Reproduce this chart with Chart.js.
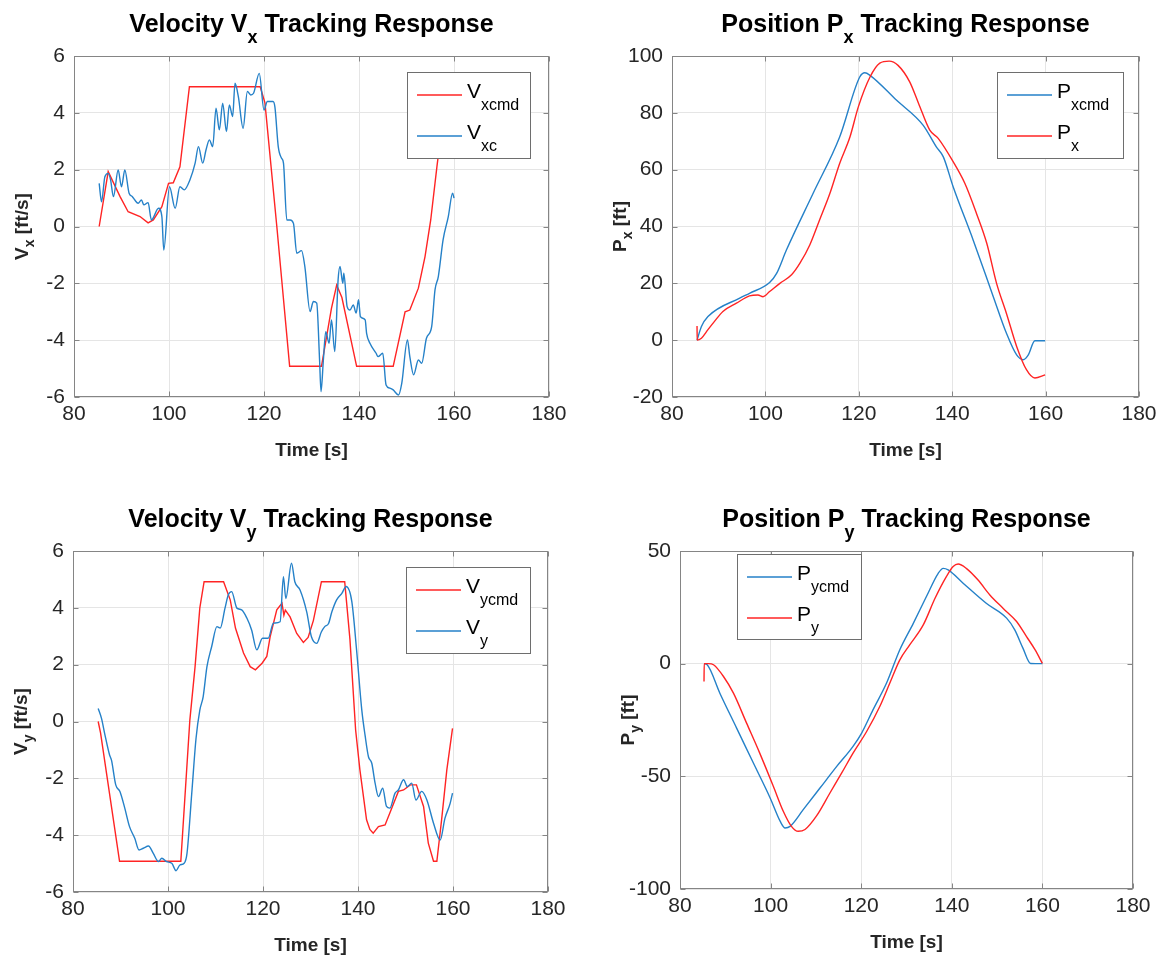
<!DOCTYPE html>
<html>
<head>
<meta charset="utf-8">
<script src="https://cdn.jsdelivr.net/npm/chart.js@4"></script>
<style>
  html, body { margin: 0; padding: 0; background: #fff; }
  #wrap { position: relative; width: 1171px; height: 957px; }
  canvas { position: absolute; }
</style>
</head>
<body>
<div id="wrap">
  <canvas id="c1" width="585" height="478" style="left:0;top:0"></canvas>
  <canvas id="c2" width="586" height="478" style="left:585px;top:0"></canvas>
  <canvas id="c3" width="585" height="479" style="left:0;top:478px"></canvas>
  <canvas id="c4" width="586" height="479" style="left:585px;top:478px"></canvas>
</div>
<script>
// tick labels
const timeTicks = [80, 100, 120, 140, 160, 180];
const velTicks = [-6, -4, -2, 0, 2, 4, 6];
const pxTicks = [-20, 0, 20, 40, 60, 80, 100];
const pyTicks = [-100, -50, 0, 50];

// Vx commanded / measured
const vxcmdT = [85.3, 87.2, 89.7, 91.4, 93.9, 95.6, 96.7, 98.5, 99.9, 100.9, 102.3, 104.3, 119.2, 120.2, 122.7, 125.4, 132.1, 134.2, 135.3, 136.4, 139.5, 147.2, 149.7, 150.7, 152.5, 153.9, 155.1, 156.4, 158.5, 160];
const vxcmdV = [0, 1.93, 1.05, 0.52, 0.35, 0.13, 0.23, 0.7, 1.52, 1.54, 2.1, 4.92, 4.92, 4.35, 0, -4.92, -4.92, -2.88, -2.06, -2.5, -4.92, -4.92, -3.0, -2.94, -2.17, -1.06, 0.23, 2.1, 4.9, 4.9];
const vxcT = [85.3, 85.8, 86.5, 87.2, 87.7, 88.3, 89.3, 90.0, 90.7, 91.6, 92.3, 92.8, 93.5, 94.2, 94.7, 95.6, 96.3, 97.8, 98.5, 98.9, 100.1, 101.3, 102.3, 103.2, 104.4, 105.5, 106.2, 107.1, 107.8, 108.5, 109.2, 109.9, 110.6, 111.3, 112.1, 112.7, 113.4, 113.9, 114.6, 115.6, 116.5, 117.2, 117.8, 119.0, 120.0, 120.7, 121.9, 122.3, 123.0, 123.7, 124.1, 124.8, 125.5, 126.2, 126.9, 127.9, 128.6, 129.7, 130.4, 131.1, 131.7, 132.0, 132.5, 133.0, 133.7, 134.2, 134.9, 135.6, 136.0, 136.6, 136.8, 137.5, 138.1, 138.8, 139.4, 139.9, 140.3, 141.3, 141.6, 142.3, 143.6, 144.0, 145.0, 145.7, 146.5, 147.2, 148.3, 149.0, 150.2, 150.7, 151.5, 152.5, 153.2, 154.2, 155.3, 156.0, 156.7, 157.7, 158.8, 159.7, 160.0];
const vxcV = [1.52, 0.87, 1.75, 1.87, 1.64, 1.05, 1.99, 1.40, 1.99, 1.17, 1.05, 0.93, 0.82, 0.93, 0.76, 0.84, 0.23, 0.64, 0.35, -0.83, 1.40, 0.64, 1.40, 1.29, 1.64, 2.23, 2.81, 2.23, 2.70, 3.05, 2.81, 4.16, 3.40, 4.34, 3.34, 4.28, 3.87, 5.04, 4.57, 3.46, 4.75, 4.63, 4.69, 5.39, 4.10, 4.40, 4.40, 4.2, 2.81, 2.40, 2.23, 0.23, 0.23, 0.11, -0.94, -0.85, -1.41, -2.99, -2.64, -2.70, -4.70, -5.81, -4.70, -3.70, -4.11, -3.29, -4.40, -1.88, -1.41, -2.0, -1.64, -2.82, -2.94, -2.76, -3.05, -2.58, -3.17, -3.29, -3.76, -4.11, -4.46, -4.58, -4.46, -5.58, -5.69, -5.75, -5.93, -5.52, -3.99, -4.58, -5.22, -4.70, -4.81, -3.93, -3.52, -2.23, -1.76, -0.47, 0.35, 1.17, 1.0];

// Px commanded / measured
const pxcmdT = [85.36, 86.3, 87.7, 94.5, 96.6, 100.9, 102.4, 104.5, 110.2, 115.9, 120.2, 121.3, 122.4, 128.1, 133.8, 136.6, 138.1, 140.2, 144.5, 148.8, 151.6, 153.8, 155.2, 156.3, 157.7, 159.9];
const pxcmdV = [0, 4.8, 8.3, 14.8, 16.5, 20.3, 23.5, 31.7, 51.6, 71.5, 92.6, 94.1, 93.2, 84.4, 75.6, 68.0, 64.5, 54.0, 35.2, 15.3, 2.5, -5.2, -6.9, -5.2, -0.2, -0.2];
const pxT = [85.36, 85.4, 86.3, 87.7, 89.1, 90.9, 93.8, 96.6, 98.4, 99.5, 100.9, 103.1, 105.6, 107.4, 109.5, 111.6, 113.8, 115.9, 118.1, 119.9, 122.4, 124.5, 126.5, 128.4, 130.9, 132.8, 135.2, 137.0, 140.2, 142.7, 145.2, 147.4, 149.5, 151.6, 153.8, 155.9, 157.7, 159.9];
const pxV = [5.0, 0, 0.7, 3.7, 6.6, 10.1, 13.0, 15.6, 15.9, 15.3, 17.1, 20.0, 23.0, 27.1, 33.5, 42.3, 51.6, 62.2, 71.5, 82.1, 92.6, 97.5, 98.2, 96.7, 90.9, 83.3, 73.9, 71.0, 62.8, 55.2, 44.6, 34.1, 20.0, 9.5, -2.2, -10.4, -13.3, -12.2];

// Vy commanded / measured
const vycmdT = [85.3, 85.8, 89.8, 102.7, 104.6, 105.7, 106.7, 107.6, 111.7, 113.1, 114.2, 115.9, 117.3, 118.4, 119.8, 120.8, 121.5, 122.9, 124.0, 124.4, 124.7, 125.7, 127.1, 128.5, 129.5, 130.6, 132.3, 137.2, 138.3, 139.5, 140.4, 141.8, 142.5, 143.2, 144.3, 145.7, 147.1, 148.5, 149.6, 151.0, 152.3, 153.8, 154.8, 155.9, 156.6, 157.6, 158.7, 159.9];
const vycmdV = [0, -0.4, -4.92, -4.92, 0.05, 1.93, 4.0, 4.92, 4.92, 4.28, 3.29, 2.41, 1.93, 1.82, 2.05, 2.29, 2.98, 3.93, 4.16, 3.74, 3.92, 3.68, 3.10, 2.78, 2.96, 3.55, 4.92, 4.92, 2.90, -0.3, -1.70, -3.46, -3.8, -3.93, -3.70, -3.64, -3.05, -2.46, -2.41, -2.23, -2.23, -2.99, -4.28, -4.92, -4.92, -3.46, -1.70, -0.24];
const vyT = [85.3, 86.0, 86.7, 87.7, 88.1, 89.0, 89.9, 90.9, 91.9, 93.0, 93.9, 94.8, 95.9, 96.9, 98.0, 98.7, 99.7, 100.8, 101.7, 102.5, 103.4, 104.0, 105.0, 105.9, 106.7, 107.4, 108.2, 109.2, 110.3, 111.0, 112.0, 112.7, 113.4, 114.5, 115.5, 116.6, 117.6, 118.7, 119.9, 121.1, 122.2, 123.6, 124.3, 124.8, 126.0, 126.7, 127.8, 129.2, 130.2, 131.3, 132.3, 133.0, 133.8, 134.5, 135.5, 136.6, 137.5, 138.7, 139.7, 140.8, 141.5, 142.2, 142.9, 143.6, 144.3, 145.2, 146.0, 146.7, 147.8, 148.5, 149.6, 150.4, 151.3, 152.2, 153.4, 154.5, 155.9, 157.3, 158.3, 159.4, 159.9];
const vyV = [0.46, 0.11, -0.45, -1.18, -1.36, -2.23, -2.47, -3.05, -3.70, -4.11, -4.52, -4.46, -4.38, -4.64, -4.93, -4.81, -4.93, -4.99, -5.25, -5.05, -4.99, -4.64, -2.53, -0.6, 0.40, 0.87, 1.93, 2.64, 3.34, 3.29, 3.99, 4.46, 4.57, 3.99, 3.93, 3.64, 3.22, 2.52, 2.93, 2.93, 3.46, 3.51, 5.1, 4.33, 5.57, 4.92, 4.63, 3.86, 2.98, 2.75, 3.16, 3.34, 3.45, 3.86, 4.28, 4.51, 4.75, 4.22, 2.52, 0.40, -0.5, -1.24, -1.47, -2.17, -2.64, -2.35, -2.99, -3.05, -2.52, -2.41, -2.05, -2.29, -2.17, -2.76, -2.46, -2.76, -3.58, -4.17, -3.41, -2.88, -2.52];

// Py commanded / measured
const pycmdT = [85.3, 86.0, 88.8, 92.5, 96.2, 99.9, 102.1, 103.2, 104.3, 107.2, 110.9, 114.6, 118.2, 120.1, 122.6, 125.6, 128.5, 131.5, 134.4, 137.0, 138.1, 139.2, 142.5, 147.6, 152.1, 153.9, 155.7, 157.4, 160.0];
const pycmdV = [0, -0.5, -13.1, -28.6, -44.1, -59.6, -69.9, -72.9, -72.2, -64.8, -55.2, -45.6, -36.7, -30.8, -20.5, -8.6, 6.1, 17.9, 29.8, 40.1, 42.3, 41.6, 35.7, 26.8, 20.2, 15.0, 6.9, 0.1, 0];
const pyT = [85.3, 85.35, 86.3, 87.4, 89.6, 91.8, 94.7, 97.6, 100.6, 102.8, 104.6, 106.1, 107.6, 110.1, 113.1, 115.7, 118.2, 121.2, 124.1, 126.3, 128.5, 130.7, 133.7, 136.3, 138.8, 140.3, 141.4, 143.2, 145.8, 148.4, 151.3, 154.3, 156.5, 158.4, 160.0];
const pyV = [-7.9, 0, 0, -0.5, -5.7, -13.1, -26.4, -39.7, -54.4, -65.5, -72.2, -74.4, -73.6, -67.7, -57.4, -48.5, -39.7, -30.1, -19.0, -8.7, 1.6, 8.3, 17.2, 29.0, 38.6, 43.1, 44.2, 42.3, 37.1, 30.5, 24.6, 18.7, 12.0, 6.1, 0.1];

const RED = '#ff2424';
const BLUE = '#2581c8';
const INK = '#262626';
const BOX = '#858585';
const FONT = '"Liberation Sans", Arial, Helvetica, sans-serif';

Chart.defaults.font.family = FONT;
Chart.defaults.color = INK;

const pts = (t, v) => t.map((x, i) => ({ x: x, y: v[i] }));

// draws text with subscripts: parts = [[text, isSub], ...]
function drawRich(ctx, parts, x, y, align, fonts, off) {
  const w = parts.map(p => { ctx.font = fonts[p[1] ? 1 : 0]; return ctx.measureText(p[0]).width; });
  let cx = align === 'center' ? x - w.reduce((a, b) => a + b, 0) / 2 : x;
  ctx.textAlign = 'left';
  ctx.textBaseline = 'alphabetic';
  parts.forEach((p, i) => {
    ctx.font = fonts[p[1] ? 1 : 0];
    ctx.fillText(p[0], cx, y + (p[1] ? off : 0));
    cx += w[i];
  });
}

const matlabAxes = {
  id: 'matlabAxes',
  afterDatasetsDraw(chart, args, o) {
    const ctx = chart.ctx, a = chart.chartArea;
    const L = Math.round(a.left) + 0.5, R = Math.round(a.right) - 0.5;
    const T = Math.round(a.top) + 0.5, B = Math.round(a.bottom) - 0.5;
    ctx.save();
    ctx.strokeStyle = BOX;
    ctx.lineWidth = 1;
    ctx.strokeRect(L, T, R - L, B - T);
    const xs = chart.scales.x, ys = chart.scales.y;
    ctx.beginPath();
    xs.ticks.forEach(tk => {
      const px = Math.round(xs.getPixelForValue(tk.value)) + 0.5;
      ctx.moveTo(px, B); ctx.lineTo(px, B - 5);
      ctx.moveTo(px, T); ctx.lineTo(px, T + 5);
    });
    ys.ticks.forEach(tk => {
      const py = Math.round(ys.getPixelForValue(tk.value)) + 0.5;
      ctx.moveTo(L, py); ctx.lineTo(L + 5, py);
      ctx.moveTo(R, py); ctx.lineTo(R - 5, py);
    });
    ctx.stroke();

    // legend
    const lg = o.legend;
    ctx.fillStyle = '#fff';
    ctx.fillRect(lg.x, lg.y, lg.w, lg.h);
    ctx.strokeStyle = '#6e6e6e';
    ctx.lineWidth = 1;
    ctx.strokeRect(lg.x + 0.5, lg.y + 0.5, lg.w, lg.h);
    lg.items.forEach((it, i) => {
      const ry = lg.y + 23 + i * 41;
      ctx.strokeStyle = it[0];
      ctx.lineWidth = 1.4;
      ctx.beginPath();
      ctx.moveTo(lg.x + 10, ry);
      ctx.lineTo(lg.x + 55, ry);
      ctx.stroke();
      ctx.fillStyle = '#000';
      drawRich(ctx, [[it[1], 0], [it[2], 1]], lg.x + 60, ry + 3, 'left',
        ['21px ' + FONT, '16px ' + FONT], 12);
    });

    // title and axis labels
    ctx.fillStyle = '#000';
    const cx = (a.left + a.right) / 2;
    drawRich(ctx, o.title, cx, a.top - 24, 'center', ['bold 25px ' + FONT, 'bold 18px ' + FONT], 11);
    ctx.fillStyle = INK;
    drawRich(ctx, [['Time [s]', 0]], cx, a.bottom + 59, 'center', ['bold 19px ' + FONT, 'bold 14px ' + FONT], 6);
    ctx.translate(a.left - 46, (a.top + a.bottom) / 2);
    ctx.rotate(-Math.PI / 2);
    drawRich(ctx, o.ylabel, 0, 0, 'center', ['bold 19px ' + FONT, 'bold 14px ' + FONT], 6);
    ctx.restore();
  }
};

function line(data, color, order, smooth) {
  return {
    data: data, borderColor: color, borderWidth: 1.4, order: order,
    tension: 0, cubicInterpolationMode: smooth ? 'monotone' : 'default',
    pointRadius: 0, parsing: false
  };
}

function makeChart(id, c) {
  return new Chart(document.getElementById(id), {
    type: 'line',
    data: { datasets: c.datasets },
    options: {
      responsive: false,
      animation: false,
      devicePixelRatio: 1,
      layout: { padding: c.pad },
      plugins: { legend: { display: false }, tooltip: { enabled: false }, matlabAxes: c.deco },
      scales: {
        x: {
          type: 'linear', min: 80, max: 180,
          afterBuildTicks: s => { s.ticks = timeTicks.map(v => ({ value: v })); },
          afterFit: s => { s.height = c.xh; },
          grid: { color: '#e5e5e5', drawTicks: false },
          border: { display: false },
          ticks: { font: { size: 21 }, color: INK, padding: 5, maxRotation: 0 }
        },
        y: {
          type: 'linear', min: c.yTicks[0], max: c.yTicks[c.yTicks.length - 1],
          afterBuildTicks: s => { s.ticks = c.yTicks.map(v => ({ value: v })); },
          afterFit: s => { s.width = c.yw; },
          grid: { color: '#e5e5e5', drawTicks: false },
          border: { display: false },
          ticks: { font: { size: 21 }, color: INK, padding: 9 }
        }
      }
    },
    plugins: [matlabAxes]
  });
}

makeChart('c1', {
  pad: { top: 56, right: 36, left: 0, bottom: 0 }, yw: 74, xh: 81, yTicks: velTicks,
  datasets: [line(pts(vxcmdT, vxcmdV), RED, 2, false), line(pts(vxcT, vxcV), BLUE, 1, true)],
  deco: {
    title: [['Velocity V', 0], ['x', 1], [' Tracking Response', 0]],
    ylabel: [['V', 0], ['x', 1], [' [ft/s]', 0]],
    legend: { x: 407, y: 72, w: 123, h: 86, items: [[RED, 'V', 'xcmd'], [BLUE, 'V', 'xc']] }
  }
});

makeChart('c2', {
  pad: { top: 56, right: 32, left: 0, bottom: 0 }, yw: 87, xh: 81, yTicks: pxTicks,
  datasets: [line(pts(pxcmdT, pxcmdV), BLUE, 2, true), line(pts(pxT, pxV), RED, 1, true)],
  deco: {
    title: [['Position P', 0], ['x', 1], [' Tracking Response', 0]],
    ylabel: [['P', 0], ['x', 1], [' [ft]', 0]],
    legend: { x: 412, y: 72, w: 126, h: 86, items: [[BLUE, 'P', 'xcmd'], [RED, 'P', 'x']] }
  }
});

makeChart('c3', {
  pad: { top: 73, right: 37, left: 0, bottom: 0 }, yw: 73, xh: 65, yTicks: velTicks,
  datasets: [line(pts(vycmdT, vycmdV), RED, 2, false), line(pts(vyT, vyV), BLUE, 1, true)],
  deco: {
    title: [['Velocity V', 0], ['y', 1], [' Tracking Response', 0]],
    ylabel: [['V', 0], ['y', 1], [' [ft/s]', 0]],
    legend: { x: 406, y: 89, w: 124, h: 86, items: [[RED, 'V', 'ycmd'], [BLUE, 'V', 'y']] }
  }
});

makeChart('c4', {
  pad: { top: 73, right: 38, left: 0, bottom: 0 }, yw: 95, xh: 68, yTicks: pyTicks,
  datasets: [line(pts(pycmdT, pycmdV), BLUE, 2, true), line(pts(pyT, pyV), RED, 1, true)],
  deco: {
    title: [['Position P', 0], ['y', 1], [' Tracking Response', 0]],
    ylabel: [['P', 0], ['y', 1], [' [ft]', 0]],
    legend: { x: 152, y: 76, w: 124, h: 85, items: [[BLUE, 'P', 'ycmd'], [RED, 'P', 'y']] }
  }
});
</script>
</body>
</html>
